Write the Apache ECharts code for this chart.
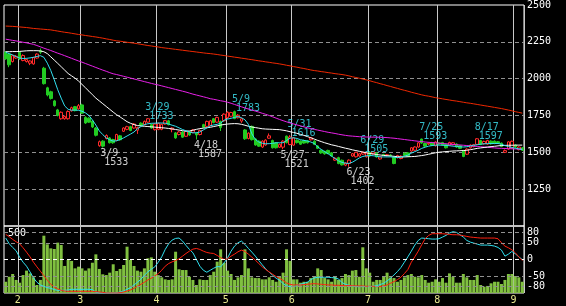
<!DOCTYPE html>
<html><head><meta charset="utf-8">
<script src="https://cdn.jsdelivr.net/npm/echarts@6/dist/echarts.min.js"></script>
<style>html,body{margin:0;padding:0;background:#000}#c{width:566px;height:306px}</style>
</head><body><div id="c"></div>
<script>
// trading days (month, days)
const tradingDays = [
  [1, [26,27,28,31]],
  [2, [1,2,3,4,7,8,9,10,14,15,16,17,18,21,22,24,25,28]],
  [3, [1,2,3,4,7,8,9,10,11,14,15,16,17,18,22,23,24,25,28,29,30,31]],
  [4, [1,4,5,6,7,8,11,12,13,14,15,18,19,20,21,22,25,26,27,28]],
  [5, [2,6,9,10,11,12,13,16,17,18,19,20,23,24,25,26,27,30,31]],
  [6, [1,2,3,6,7,8,9,10,13,14,15,16,17,20,21,22,23,24,27,28,29,30]],
  [7, [1,4,5,6,7,8,11,12,13,14,15,19,20,21,22,25,26,27,28,29]],
  [8, [1,2,3,4,5,8,9,10,12,15,16,17,18,19,22,23,24,25,26,29,30,31]],
  [9, [1,2,5]]
];
// [open, close, low, high]
const ohlc = [
[2179,2134,2128,2188],[2167,2094,2078,2172],[2116,2156,2110,2162],[2140,2152,2135,2160],[2179,2134,2128,2185],
[2123,2157,2118,2165],[2116,2130,2110,2136],[2105,2120,2092,2125],[2100,2143,2095,2148],[2140,2167,2136,2172],
[2190,2180,2168,2205],[2071,1966,1960,2080],[1938,1889,1880,1945],[1911,1866,1858,1918],[1849,1817,1810,1856],
[1788,1750,1744,1795],[1728,1772,1722,1778],[1728,1743,1722,1750],[1728,1777,1722,1785],[1782,1803,1776,1810],
[1810,1783,1778,1815],[1795,1817,1790,1828],[1822,1766,1760,1830],[1737,1699,1693,1745],[1732,1705,1700,1738],
[1712,1672,1665,1718],[1665,1616,1608,1672],[1545,1572,1538,1580],[1576,1542,1533,1582],[1594,1614,1588,1622],
[1598,1565,1560,1604],[1587,1565,1558,1592],[1581,1621,1576,1626],[1612,1585,1580,1618],[1643,1665,1638,1670],
[1656,1674,1650,1680],[1674,1648,1643,1680],[1665,1692,1660,1698],[1650,1668,1625,1674],[1698,1683,1678,1704],
[1688,1710,1683,1716],[1705,1728,1700,1733],[1688,1665,1660,1694],[1654,1692,1648,1698],[1656,1696,1650,1702],
[1656,1690,1650,1695],[1692,1715,1688,1720],[1714,1688,1683,1720],[1656,1665,1636,1670],[1632,1598,1592,1638],
[1621,1638,1615,1644],[1638,1603,1598,1644],[1609,1643,1604,1648],[1640,1618,1612,1645],[1636,1652,1630,1658],
[1630,1618,1587,1636],[1621,1648,1615,1654],[1688,1670,1665,1694],[1676,1710,1670,1715],[1683,1714,1678,1720],
[1728,1702,1697,1733],[1705,1737,1700,1742],[1710,1668,1645,1715],[1714,1759,1708,1765],[1735,1772,1728,1778],
[1745,1770,1738,1775],[1776,1729,1725,1783],[1735,1752,1730,1760],[1712,1728,1700,1735],[1652,1592,1585,1658],
[1594,1630,1588,1636],[1676,1586,1580,1682],[1590,1550,1545,1596],[1576,1542,1537,1582],[1536,1576,1530,1582],
[1550,1583,1545,1588],[1596,1612,1592,1628],[1580,1531,1526,1586],[1565,1531,1526,1570],[1535,1554,1530,1560],
[1535,1576,1521,1582],[1610,1566,1560,1614],[1553,1604,1548,1616],[1549,1598,1544,1604],[1582,1566,1560,1588],
[1576,1555,1550,1581],[1580,1563,1558,1586],[1578,1565,1560,1583],[1585,1598,1580,1604],[1576,1554,1549,1582],
[1543,1527,1522,1548],[1514,1496,1490,1519],[1506,1490,1484,1511],[1513,1492,1487,1518],[1497,1475,1470,1502],
[1447,1460,1442,1466],[1464,1424,1419,1470],[1446,1415,1410,1451],[1413,1428,1406,1433],[1424,1447,1402,1452],
[1475,1491,1470,1496],[1470,1500,1465,1504],[1475,1490,1470,1496],[1488,1500,1483,1505],[1470,1498,1465,1503],
[1500,1475,1470,1504],[1490,1503,1485,1504],[1495,1469,1464,1500],[1455,1470,1450,1475],[1485,1480,1475,1490],
[1478,1484,1473,1489],[1482,1478,1472,1487],[1466,1424,1419,1471],[1464,1478,1459,1483],[1458,1474,1453,1479],
[1494,1478,1473,1499],[1496,1474,1468,1502],[1509,1531,1504,1536],[1514,1536,1509,1541],[1536,1565,1531,1570],
[1590,1563,1558,1593],[1560,1542,1537,1565],[1556,1562,1550,1568],[1566,1548,1543,1571],[1545,1570,1540,1575],
[1564,1556,1551,1569],[1566,1550,1545,1571],[1554,1531,1526,1559],[1549,1567,1544,1572],[1552,1565,1547,1570],
[1556,1536,1531,1561],[1545,1527,1522,1550],[1512,1472,1467,1517],[1487,1522,1482,1527],[1531,1549,1526,1554],
[1539,1552,1534,1557],[1554,1592,1550,1597],[1580,1554,1549,1585],[1558,1574,1553,1579],[1556,1580,1551,1585],
[1576,1558,1553,1581],[1576,1560,1555,1581],[1572,1562,1557,1577],[1562,1540,1535,1567],[1500,1512,1495,1520],
[1522,1571,1517,1576],[1528,1575,1523,1580],[1549,1536,1531,1554],[1518,1536,1513,1541],[1531,1514,1509,1536]
];
const maShort = [
2179,2170,2161,2150,2140,2137,2138,2141,2145,2151,
2156,2145,2105,2055,1992,1925,1868,1815,1792,1786,
1787,1785,1779,1768,1750,1720,1685,1645,1620,1598,
1585,1576,1578,1587,1598,1611,1624,1638,1660,1675,
1688,1694,1697,1698,1699,1699,1698,1692,1684,1677,
1666,1655,1646,1638,1632,1633,1638,1652,1665,1680,
1686,1690,1698,1718,1726,1731,1737,1743,1735,1721,
1690,1625,1588,1570,1562,1558,1559,1561,1565,1565,
1565,1580,1596,1599,1594,1586,1581,1577,1570,1560,
1537,1520,1505,1490,1474,1458,1442,1432,1426,1425,
1433,1447,1462,1472,1477,1479,1477,1473,1469,1469,
1469,1469,1467,1464,1467,1474,1481,1494,1505,1514,
1527,1535,1542,1546,1549,1549,1548,1547,1545,1542,
1540,1538,1536,1538,1543,1548,1551,1555,1558,1559,
1560,1560,1560,1555,1546,1539,1533,1528,1524,1520
];
const maMid = [
2183,2183,2184,2184,2185,2187,2189,2190,2190,2190,
2188,2183,2170,2148,2126,2104,2081,2058,2035,2019,
2003,1984,1961,1938,1915,1891,1868,1849,1830,1811,
1792,1773,1755,1740,1724,1708,1697,1688,1682,1679,
1677,1675,1673,1671,1669,1667,1665,1662,1659,1655,
1651,1647,1644,1645,1650,1656,1661,1664,1667,1670,
1675,1680,1685,1689,1692,1694,1695,1694,1690,1684,
1677,1672,1668,1664,1660,1658,1657,1656,1655,1654,
1650,1646,1640,1635,1629,1622,1615,1607,1599,1590,
1581,1573,1565,1558,1551,1546,1540,1534,1528,1523,
1517,1512,1507,1502,1497,1492,1489,1485,1482,1479,
1477,1475,1473,1470,1469,1469,1470,1471,1472,1475,
1478,1482,1487,1492,1497,1501,1503,1505,1507,1509,
1510,1511,1512,1514,1518,1522,1527,1530,1533,1536,
1539,1541,1544,1546,1547,1548,1548,1549,1549,1549
];
const maLong = [
2268,2264,2260,2256,2252,2247,2243,2238,2233,2225,
2216,2207,2199,2191,2182,2173,2165,2156,2147,2138,
2129,2120,2112,2103,2094,2085,2076,2067,2058,2050,
2041,2033,2028,2022,2016,2010,2004,1998,1992,1986,
1980,1974,1968,1962,1957,1951,1945,1939,1933,1927,
1921,1915,1909,1902,1895,1889,1883,1877,1871,1864,
1860,1855,1850,1846,1840,1833,1825,1817,1809,1801,
1794,1787,1780,1773,1765,1758,1750,1741,1732,1723,
1715,1707,1700,1693,1686,1680,1673,1667,1661,1656,
1651,1646,1641,1636,1632,1628,1623,1619,1615,1612,
1610,1608,1606,1605,1604,1604,1603,1603,1602,1601,
1600,1598,1596,1593,1590,1587,1584,1581,1578,1575,
1573,1570,1568,1566,1564,1562,1560,1558,1556,1554,
1552,1550,1548,1546,1544,1542,1540,1538,1536,1534,
1532,1530,1528,1527,1526,1525,1524,1523,1522,1521
];
const maVeryLong = [
2357,2356,2355,2353,2351,2349,2347,2344,2341,2339,
2337,2335,2333,2331,2327,2323,2319,2315,2312,2308,
2304,2300,2297,2293,2290,2286,2283,2279,2275,2270,
2266,2261,2257,2254,2251,2247,2244,2241,2237,2233,
2229,2225,2222,2218,2215,2211,2208,2205,2202,2199,
2196,2193,2190,2187,2184,2181,2178,2175,2172,2170,
2167,2164,2160,2157,2153,2150,2146,2143,2139,2136,
2132,2129,2125,2121,2118,2114,2111,2107,2104,2100,
2096,2091,2087,2082,2078,2073,2069,2064,2059,2055,
2052,2048,2045,2041,2038,2034,2031,2028,2024,2019,
2013,2008,2003,1997,1992,1986,1979,1973,1966,1960,
1953,1947,1940,1934,1927,1921,1915,1908,1902,1896,
1890,1885,1881,1876,1871,1867,1863,1859,1855,1851,
1848,1844,1840,1836,1833,1829,1825,1821,1817,1813,
1809,1805,1801,1797,1792,1787,1782,1776,1771,1766
];
const volume = [
94,136,159,109,86,150,187,164,131,67,
109,479,407,373,368,421,401,226,276,268,
206,220,206,187,206,253,323,201,156,150,
170,240,184,201,234,387,276,226,187,178,
206,290,298,178,150,131,114,109,114,345,
198,192,192,136,109,67,114,109,109,150,
178,262,365,253,187,159,109,131,150,365,
206,131,125,125,114,114,131,109,94,136,
170,365,268,114,114,86,94,94,125,136,
206,192,125,114,94,136,109,125,159,150,
187,192,136,382,206,170,94,109,109,136,
170,131,125,94,109,131,150,159,136,131,
150,109,86,94,114,94,125,86,164,136,
86,86,159,131,109,109,150,67,53,59,
81,94,94,75,109,159,159,142,131,94
];
const oscFast = [
64,47,36,26,7,-8,-20,-37,-55,-68,
-76,-80,-84,-86,-90,-92,-92,-92,-91,-89,
-89,-89,-89,-89,-89,-90,-97,-100,-100,-100,
-100,-100,-99,-97,-94,-89,-84,-76,-68,-59,
-47,-37,-29,-22,-8,8,30,47,58,63,
64,55,42,30,20,0,-20,-32,-38,-32,
-26,-21,-22,-10,5,25,40,50,55,45,
33,22,10,-3,-16,-28,-38,-47,-56,-62,
-72,-79,-81,-81,-78,-74,-71,-68,-60,-55,
-53,-53,-53,-53,-54,-55,-58,-69,-74,-77,
-79,-81,-81,-81,-81,-81,-80,-78,-75,-71,
-64,-56,-46,-36,-24,-8,8,25,43,57,
64,63,62,61,61,62,67,72,79,83,
81,74,67,57,52,49,46,43,43,43,
42,40,36,28,10,16,24,17,8,0
];
const oscSlow = [
75,68,60,53,47,35,22,8,-8,-22,
-35,-48,-62,-74,-82,-88,-92,-94,-95,-95,
-95,-95,-95,-95,-95,-95,-96,-97,-98,-100,
-100,-100,-100,-99,-97,-94,-91,-86,-80,-74,
-68,-61,-56,-49,-42,-32,-20,-12,-7,-3,
2,10,18,25,31,33,30,25,21,19,
18,12,6,0,2,10,16,23,28,24,
16,7,-2,-12,-22,-30,-37,-44,-51,-56,
-62,-70,-74,-76,-76,-76,-75,-74,-73,-72,
-73,-74,-75,-76,-76,-77,-77,-78,-78,-78,
-78,-79,-79,-79,-80,-80,-80,-81,-81,-79,
-76,-71,-66,-60,-53,-42,-30,-8,8,25,
44,62,72,77,77,77,77,76,75,74,
74,73,71,69,67,66,65,64,64,64,
64,64,62,50,40,35,29,20,8,-3
];
const highMarks = [['3/29',1733],['5/9',1783],['5/31',1616],['6/29',1505],['7/25',1593],['8/17',1597]];
const lowMarks = [['3/9',1533],['4/18',1587],['5/27',1521],['6/23',1402]];
const priceTicks = [1250,1500,1750,2000,2250,2500];
const oscTicks = [80,50,0,-50,-80];
const volTick = 500;

const categories = [];
const monthStart = [];
tradingDays.forEach(([m, days]) => days.forEach((d, k) => {
  categories.push(m + '/' + d);
  monthStart.push(k === 0 && m !== 1);
}));

const FONT = 'DejaVu Sans Mono';
const isStart = (i) => monthStart[i];
const lineS = (data, color, xi, yi) => ({type:'line', xAxisIndex:xi, yAxisIndex:yi, data, symbol:'none', silent:true,
  lineStyle:{color, width:1}});

const markStyle = (c) => ({color:c, type:[4,3], width:1});
const option = {
  animation:false,
  backgroundColor:'#000',
  grid:[
    {left:4, right:42, top:2, height:224, show:true, borderColor:'#fff', borderWidth:1, backgroundColor:'transparent'},
    {left:4, right:42, top:226, height:67, show:true, borderColor:'#fff', borderWidth:1, backgroundColor:'transparent'}
  ],
  xAxis:[
    {type:'category', gridIndex:0, data:categories, boundaryGap:true, axisLine:{show:false}, axisTick:{show:false}, axisLabel:{show:false},
     splitLine:{show:true, interval:isStart, lineStyle:{color:'#c8c8c8', width:1}}},
    {type:'category', gridIndex:1, data:categories, boundaryGap:true, axisLine:{show:false}, axisTick:{show:false},
     axisLabel:{show:true, interval:isStart, formatter:(v)=>v.split('/')[0], color:'#e8e890', fontFamily:FONT, fontSize:10, margin:2, padding:[0,3.5,0,0]},
     splitLine:{show:true, interval:isStart, lineStyle:{color:'#c8c8c8', width:1}}}
  ],
  yAxis:[
    {type:'value', gridIndex:0, position:'right', min:1000, max:2500, interval:250, axisLine:{show:false}, axisTick:{show:false},
     axisLabel:{color:'#fff', fontFamily:FONT, fontSize:10, margin:3, padding:[3,0,0,0], formatter:(v)=>priceTicks.includes(v)?String(v):''},
     splitLine:{show:true, showMinLine:false, showMaxLine:false, lineStyle:{color:'#909090', type:[4,3], width:1}}},
    {type:'value', gridIndex:1, position:'left', min:0, max:560, interval:500, axisLine:{show:false}, axisTick:{show:false}, splitLine:{show:false},
     axisLabel:{inside:true, color:'#fff', fontFamily:FONT, fontSize:10, margin:4, formatter:(v)=>v===volTick?String(v):''}},
    {type:'value', gridIndex:1, position:'right', min:-100, max:100, interval:10, axisLine:{show:false}, axisTick:{show:false}, splitLine:{show:false},
     axisLabel:{color:'#fff', fontFamily:FONT, fontSize:10, margin:3, formatter:(v)=>oscTicks.includes(v)?String(v):''}}
  ],
  series:[
    {type:'bar', xAxisIndex:1, yAxisIndex:1, data:volume, barCategoryGap:'14%', itemStyle:{color:'#80c040'}, silent:true},
    Object.assign(lineS(oscFast, '#30e0f0', 1, 2), {markLine:{silent:true, symbol:'none', label:{show:false},
      data:[{yAxis:80, lineStyle:markStyle('#909090')},{yAxis:50, lineStyle:markStyle('#909090')},{yAxis:0, lineStyle:markStyle('#ffffff')},
            {yAxis:-50, lineStyle:markStyle('#909090')},{yAxis:-80, lineStyle:markStyle('#909090')}]}}),
    lineS(oscSlow, '#ff2010', 1, 2),
    lineS(maVeryLong, '#f02800', 0, 0),
    lineS(maLong, '#e820e8', 0, 0),
    lineS(maMid, '#ffffff', 0, 0),
    lineS(maShort, '#30e0f0', 0, 0),
    {type:'candlestick', xAxisIndex:0, yAxisIndex:0, data:ohlc, barWidth:3, silent:true,
     itemStyle:{color:'#000', color0:'#22cc22', borderColor:'#ff2a2a', borderColor0:'#22cc22', borderWidth:1}},
    {type:'scatter', xAxisIndex:0, yAxisIndex:0, symbolSize:1, itemStyle:{color:'rgba(0,0,0,0)'}, silent:true,
     data:highMarks.map(h=>({value:[h[0],h[1]], label:{formatter:'{d|'+h[0]+'}\n{v|'+h[1]+'}'}})),
     label:{show:true, position:'top', distance:0, align:'left', offset:[-2.5,3], color:'#40e8f8', fontFamily:FONT, fontSize:10,
       rich:{d:{color:'#40e8f8', fontFamily:FONT, fontSize:10, lineHeight:9}, v:{color:'#40e8f8', fontFamily:FONT, fontSize:10, lineHeight:9, padding:[0,0,0,4]}}}},
    {type:'scatter', xAxisIndex:0, yAxisIndex:0, symbolSize:1, itemStyle:{color:'rgba(0,0,0,0)'}, silent:true,
     data:lowMarks.map(h=>({value:[h[0],h[1]], label:{formatter:'{d|'+h[0]+'}\n{v|'+h[1]+'}'}})),
     label:{show:true, position:'bottom', distance:0, align:'left', offset:[-2.5,1], color:'#ffffff', fontFamily:FONT, fontSize:10,
       rich:{d:{color:'#fff', fontFamily:FONT, fontSize:10, lineHeight:9}, v:{color:'#fff', fontFamily:FONT, fontSize:10, lineHeight:9, padding:[0,0,0,4]}}}}
  ]
};
const chart = echarts.init(document.getElementById('c'), null, {renderer:'canvas'});
chart.setOption(option);
</script></body></html>
